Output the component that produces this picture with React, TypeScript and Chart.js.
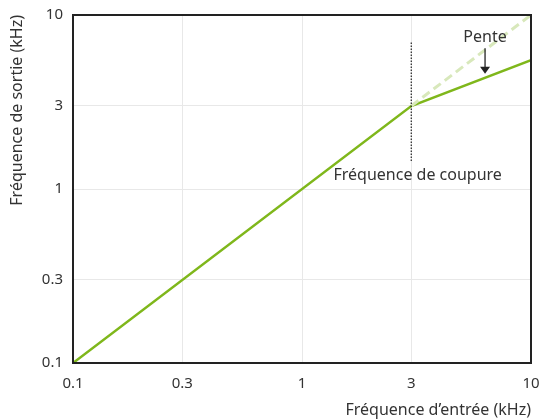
import React, { useEffect, useRef } from "react";
import { Chart, registerables } from "chart.js";

Chart.register(...registerables);

const tickValues = [0.1, 0.3, 1, 3, 10];
const responseX = [0.1, 3, 10];
const responseY = [0.1, 3, 5.5];
const extensionX = [3, 10];
const extensionY = [3, 10];
const cutoffX = [3, 3];
const cutoffY = [1.45, 7];
const penteLabel = "Pente";
const penteText = { x: 6.3, y: 7.4 };
const penteArrow = { x: 6.3, yFrom: 6.45, yTo: 4.6 };
const cutoffLabel = "Fréquence de coupure";
const cutoffText = { x: 3.2, y: 1.2 };
const xTitle = "Fréquence d’entrée (kHz)";
const yTitle = "Fréquence de sortie (kHz)";

const FONT = "'Noto Sans', sans-serif";
const GREEN = "#7fb71b";
const LIGHT_GREEN = "#d8e8bb";
const TEXT = "#333333";

const toPts = (xs: number[], ys: number[]) => xs.map((x, i) => ({ x, y: ys[i] }));

const annotations = {
  id: "annotations",
  afterDatasetsDraw(chart: any) {
    const { ctx, chartArea, scales } = chart;
    const xs = scales.x;
    const ys = scales.y;
    ctx.save();
    ctx.strokeStyle = "#222";
    ctx.lineWidth = 2;
    ctx.strokeRect(chartArea.left, chartArea.top, chartArea.right - chartArea.left, chartArea.bottom - chartArea.top);
    ctx.fillStyle = TEXT;
    ctx.font = `16px ${FONT}`;
    ctx.textAlign = "center";
    ctx.textBaseline = "middle";
    ctx.fillText(penteLabel, xs.getPixelForValue(penteText.x), ys.getPixelForValue(penteText.y));
    const ax = xs.getPixelForValue(penteArrow.x);
    const ay1 = ys.getPixelForValue(penteArrow.yFrom);
    const ay2 = ys.getPixelForValue(penteArrow.yTo);
    ctx.strokeStyle = "#222";
    ctx.lineWidth = 1.3;
    ctx.beginPath();
    ctx.moveTo(ax, ay1);
    ctx.lineTo(ax, ay2 - 5);
    ctx.stroke();
    ctx.fillStyle = "#222";
    ctx.beginPath();
    ctx.moveTo(ax - 5, ay2 - 7);
    ctx.lineTo(ax + 5, ay2 - 7);
    ctx.lineTo(ax, ay2);
    ctx.closePath();
    ctx.fill();
    ctx.fillStyle = TEXT;
    ctx.textAlign = "center";
    ctx.fillText(cutoffLabel, xs.getPixelForValue(cutoffText.x), ys.getPixelForValue(cutoffText.y));
    ctx.restore();
  },
};

export default function App() {
  const ref = useRef<HTMLCanvasElement>(null);
  useEffect(() => {
    if (!ref.current) return;
    const chart = new Chart(ref.current, {
      type: "scatter",
      data: {
        datasets: [
          {
            data: toPts(cutoffX, cutoffY),
            showLine: true,
            borderColor: "#222",
            borderWidth: 1.2,
            borderDash: [1.5, 1.5],
            pointRadius: 0,
          },
          {
            data: toPts(extensionX, extensionY),
            showLine: true,
            borderColor: LIGHT_GREEN,
            borderWidth: 3,
            borderDash: [9, 5],
            pointRadius: 0,
          },
          {
            data: toPts(responseX, responseY),
            showLine: true,
            borderColor: GREEN,
            borderWidth: 2.5,
            pointRadius: 0,
          },
        ],
      },
      options: {
        responsive: false,
        animation: false,
        layout: { padding: { top: 15, right: 11, left: 0, bottom: 0 } },
        plugins: { legend: { display: false }, tooltip: { enabled: false } },
        scales: {
          x: {
            type: "logarithmic",
            min: 0.1,
            max: 10,
            afterBuildTicks: (s: any) => {
              s.ticks = tickValues.map((v) => ({ value: v }));
            },
            afterFit: (s: any) => {
              s.height = 57;
              s.paddingLeft = 0;
              s.paddingRight = 0;
            },
            ticks: {
              callback: (v: any) => String(v),
              color: TEXT,
              font: { family: FONT, size: 15 },
              padding: 12,
              maxRotation: 0,
              autoSkip: false,
            },
            grid: { color: "#e8e8e8", drawTicks: false },
            border: { display: false },
            title: {
              display: true,
              text: xTitle,
              align: "end",
              color: TEXT,
              font: { family: FONT, size: 16 },
              padding: { top: 4, bottom: 0 },
            },
          },
          y: {
            type: "logarithmic",
            min: 0.1,
            max: 10,
            afterBuildTicks: (s: any) => {
              s.ticks = tickValues.map((v) => ({ value: v }));
            },
            afterFit: (s: any) => {
              s.width = 73;
              s.paddingTop = 0;
              s.paddingBottom = 0;
            },
            ticks: {
              callback: (v: any) => String(v),
              color: TEXT,
              font: { family: FONT, size: 15 },
              padding: 10,
              autoSkip: false,
            },
            grid: { color: "#e8e8e8", drawTicks: false },
            border: { display: false },
            title: {
              display: true,
              text: yTitle,
              align: "end",
              color: TEXT,
              font: { family: FONT, size: 16 },
              padding: { top: 8, bottom: 4 },
            },
          },
        },
      },
      plugins: [annotations],
    } as any);
    return () => chart.destroy();
  }, []);
  return (
    <div style={{ position: "fixed", left: 0, top: 0, width: 542, height: 420, background: "#fff" }}>
      <canvas ref={ref} width={542} height={420} />
    </div>
  );
}
